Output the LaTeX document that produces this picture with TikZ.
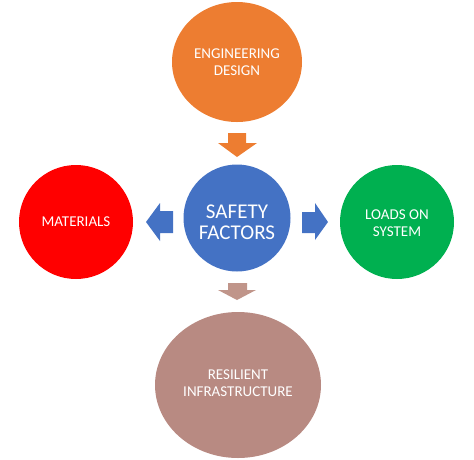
\documentclass[tikz,border=0pt]{standalone}
\usepackage{fontspec}
\setmainfont{Carlito}
\usetikzlibrary{shapes.geometric}
\definecolor{eorange}{HTML}{ED7D31}
\definecolor{eblue}{HTML}{4472C4}
\definecolor{ered}{HTML}{FF0000}
\definecolor{egreen}{HTML}{00B050}
\definecolor{erose}{HTML}{B88A82}
\definecolor{eroselight}{HTML}{C0958A}
\begin{document}
\begin{tikzpicture}[x=1pt,y=-1pt,
  bubble/.style={ellipse, inner sep=0pt, text=white, align=center, font=\fontsize{15}{17}\selectfont},
  blockarrow/.style={draw=none}]
\path[use as bounding box] (0,0) rectangle (474,459);
% circles
\fill[eorange] (237,62) ellipse [x radius=65, y radius=60];
\node[bubble] (eng) at (237,62) {ENGINEERING\\DESIGN};
\fill[eblue] (237,218) circle [radius=53.5];
\node[bubble, font=\fontsize{21}{21}\selectfont] (saf) at (237,222) {SAFETY\\FACTORS};
\fill[ered] (76,222) circle [radius=57];
\node[bubble] (mat) at (76,222) {MATERIALS};
\fill[egreen] (397,222) circle [radius=57];
\node[bubble] (loa) at (397,223) {LOADS ON\\SYSTEM};
\fill[erose] (238,385) ellipse [x radius=83, y radius=73];
\node[bubble] (res) at (238,383) {RESILIENT\\INFRASTRUCTURE};
% block arrows
\fill[eorange, blockarrow] (228,133) -- (246,133) -- (246,143) -- (257,143) -- (237,157) -- (218,143) -- (228,143) -- cycle;
\fill[eblue, blockarrow] (173,211) -- (173,233) -- (160,233) -- (160,241) -- (146,222) -- (160,203) -- (160,211) -- cycle;
\fill[eblue, blockarrow] (302,212) -- (302,233) -- (315,233) -- (315,240) -- (328,222) -- (315,203) -- (315,212) -- cycle;
\fill[eroselight, blockarrow] (228,283) -- (247,283) -- (247,290) -- (256,290) -- (237,300) -- (218,290) -- (228,290) -- cycle;
\end{tikzpicture}
\end{document}
